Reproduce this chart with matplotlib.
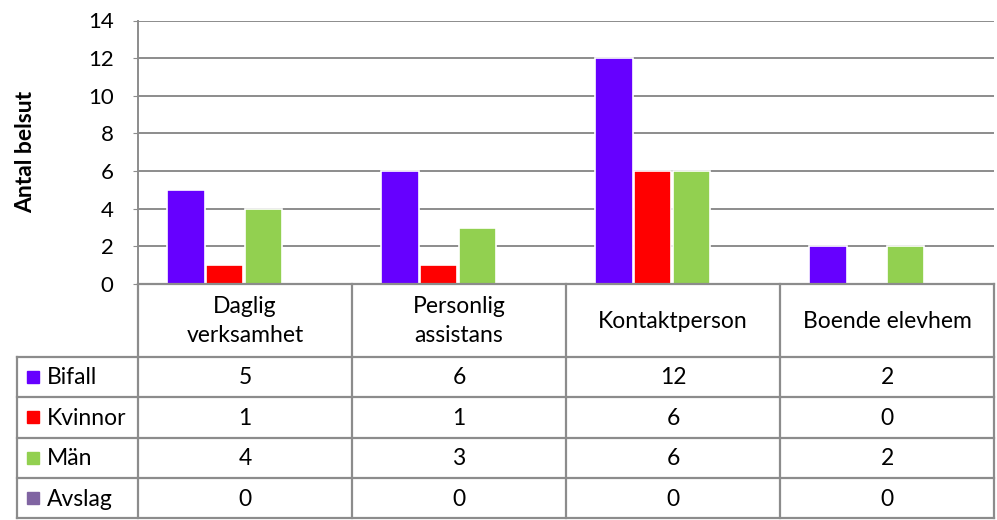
import matplotlib
matplotlib.use("Agg")
import matplotlib.pyplot as plt
import numpy as np

plt.rcParams['font.family'] = ['Lato', 'DejaVu Sans']

categories = ["Daglig\nverksamhet", "Personlig\nassistans", "Kontaktperson", "Boende elevhem"]
series = ["Bifall", "Kvinnor", "Män", "Avslag"]
bifall = [5, 6, 12, 2]
kvinnor = [1, 1, 6, 0]
man = [4, 3, 6, 2]
avslag = [0, 0, 0, 0]
values = [bifall, kvinnor, man, avslag]
colors = ["#6600FF", "#FF0000", "#92D050", "#8064A2"]

W, H = 997, 520
fig = plt.figure(figsize=(W / 100, H / 100), dpi=100)

# pixel layout
px_left, px_right = 138, 994
px_top, px_zero = 20.5, 284
px_leg_left = 17
row_edges = [284, 356.5, 397, 437.5, 478, 518]
grid_col = "#8c8c8c"
fs = 16.5

def fx(p):
    return p / W

def fy(p):
    return 1 - p / H

ax = fig.add_axes([fx(px_left), fy(px_zero), fx(px_right - px_left), (px_zero - px_top) / H])
ax.set_xlim(0, 4)
ax.set_ylim(0, 14)
ax.set_yticks(range(0, 15, 2))
ax.tick_params(axis='y', labelsize=16, length=3.5, color=grid_col, pad=14)
ax.set_xticks([])
ax.yaxis.grid(True, color=grid_col, linewidth=1.4)
ax.set_axisbelow(True)
for s in ["top", "right", "bottom"]:
    ax.spines[s].set_visible(False)
ax.spines["left"].set_color(grid_col)
ax.spines["left"].set_linewidth(1.4)
ax.set_ylabel("Antal belsut", fontsize=16.5, fontweight='bold', labelpad=0)
ax.yaxis.set_label_coords(-(px_left - 36) / (px_right - px_left), 0.5)

n = len(series)
bw = 1 / (n + 1.5)
x = np.arange(len(categories))
for i, (vals, c) in enumerate(zip(values, colors)):
    xs = x + 0.75 * bw + i * bw
    ax.bar(xs, vals, width=bw * 0.96, align='edge', color=c, edgecolor='white',
           linewidth=1.2, zorder=3)

# data table
tab = fig.add_axes([0, 0, 1, 1], facecolor='none')
tab.set_xlim(0, W)
tab.set_ylim(H, 0)
tab.axis('off')
col_w = (px_right - px_left) / 4
col_edges = [px_left + k * col_w for k in range(5)]
lw = 1.6

# horizontal lines
tab.plot([px_left, px_right], [row_edges[0]] * 2, color=grid_col, lw=lw)
for y in row_edges[1:]:
    tab.plot([px_leg_left, px_right], [y, y], color=grid_col, lw=lw)
# vertical lines
tab.plot([px_leg_left] * 2, [row_edges[1], row_edges[-1]], color=grid_col, lw=lw)
for cx in col_edges:
    tab.plot([cx, cx], [row_edges[0], row_edges[-1]], color=grid_col, lw=lw)

# header
for k, cat in enumerate(categories):
    cxm = (col_edges[k] + col_edges[k + 1]) / 2
    tab.text(cxm, (row_edges[0] + row_edges[1]) / 2 + 1, cat, ha='center', va='center',
             fontsize=fs, linespacing=1.45)

# rows
for r, (name, vals, c) in enumerate(zip(series, values, colors)):
    ym = (row_edges[r + 1] + row_edges[r + 2]) / 2
    tab.add_patch(plt.Rectangle((px_leg_left + 10, ym - 6), 12, 12, color=c))
    tab.text(px_leg_left + 30, ym + 1, name, ha='left', va='center', fontsize=fs)
    for k, v in enumerate(vals):
        cxm = (col_edges[k] + col_edges[k + 1]) / 2
        tab.text(cxm, ym + 1, str(v), ha='center', va='center', fontsize=fs)

fig.savefig("out.png", dpi=100)
